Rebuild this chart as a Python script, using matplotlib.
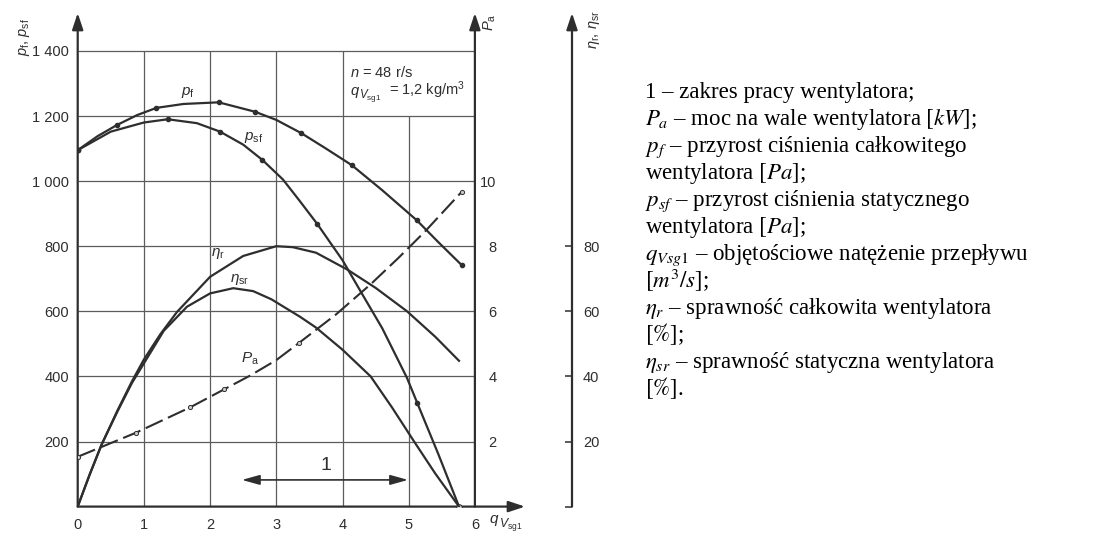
import numpy as np
import matplotlib.pyplot as plt

plt.rcParams['font.family'] = 'Liberation Sans'
plt.rcParams['mathtext.fontset'] = 'custom'
plt.rcParams['mathtext.rm'] = 'Liberation Sans'
plt.rcParams['mathtext.it'] = 'Liberation Sans:italic'

# fan characteristic, n = 48 r/s
# total pressure rise p_f [Pa]
q_pf = [0.0, 0.3, 0.59, 0.9, 1.19, 1.6, 2.13, 2.68, 3.0, 3.38, 3.75, 4.14, 4.6, 5.12, 5.45, 5.80]
pf = [1095, 1138, 1172, 1203, 1225, 1237, 1242, 1213, 1188, 1147, 1100, 1049, 972, 880, 812, 742]
pf_dots = [0, 2, 4, 6, 7, 9, 11, 13, 15]

# static pressure rise p_sf [Pa]
q_psf = [0.0, 0.5, 1.0, 1.36, 1.8, 2.15, 2.5, 2.79, 3.1, 3.35, 3.62, 4.0, 4.3, 4.6, 4.975, 5.13, 5.45, 5.76]
psf = [1095, 1152, 1180, 1190, 1178, 1152, 1112, 1065, 1005, 940, 868, 757, 652, 548, 395, 318, 160, 0]
psf_dots = [0, 3, 5, 7, 10, 15]

# total efficiency eta_r [%]
q_er = [0.0, 0.18, 0.36, 0.6, 0.82, 1.0, 1.25, 1.5, 2.0, 2.5, 3.0, 3.25, 3.6, 4.075, 4.5, 4.975, 5.4, 5.76]
eta_r = [0, 9.8, 19.0, 29.5, 38.5, 45.2, 53.0, 59.8, 70.6, 77.0, 80.0, 79.7, 78.0, 72.8, 67.2, 60.0, 52.2, 44.8]

# static efficiency eta_sr [%]
q_esr = [0.0, 0.18, 0.36, 0.6, 0.82, 1.0, 1.3, 1.65, 2.0, 2.35, 2.65, 2.925, 3.36, 3.6, 4.0, 4.425, 4.75, 5.075, 5.4, 5.76]
eta_sr = [0, 9.8, 19.0, 29.2, 38.0, 44.0, 54.0, 61.4, 65.5, 67.1, 66.2, 63.7, 58.3, 55.0, 48.2, 40.0, 30.4, 20.2, 10.2, 0]

# shaft power P_a [kW]
q_pa = [0.0, 0.88, 1.70, 2.21, 2.6, 3.0, 3.35, 3.9, 4.425, 4.85, 5.25, 5.80]
pa = [1.53, 2.27, 3.05, 3.60, 4.02, 4.50, 5.04, 5.90, 6.83, 7.65, 8.46, 9.67]
pa_dots = [0, 1, 2, 3, 6, 11]

work_range = [2.48, 4.99]

p_ticks = [200, 400, 600, 800, 1000, 1200, 1400]
p_labels = ['200', '400', '600', '800', '1 000', '1 200', '1 400']
pa_ticks = [2, 4, 6, 8, 10]
eta_ticks = [0, 20, 40, 60, 80]

ink = '#2e2e2e'
grid_c = '#5c5c5c'

W, H = 1097, 533
fig = plt.figure(figsize=(W / 100, H / 100), dpi=100)

# pixel geometry of the plotting frame
x0_px, y0_px = 77.7, 506.6
sx, sy = 66.2, 0.3255
right_px, top_px = 640, 4
ax = fig.add_axes([x0_px / W, (H - y0_px) / H, (right_px - x0_px) / W, (y0_px - top_px) / H])
xmax = (right_px - x0_px) / sx
ymax = (y0_px - top_px) / sy
ax.set_xlim(0, xmax)
ax.set_ylim(0, ymax)
for s in ax.spines.values():
    s.set_visible(False)

x_eta = (572 - x0_px) / sx
y_arrow = (y0_px - 13) / sy

# grid
ax.vlines([1, 2, 3, 4], 0, 1400, color=grid_c, lw=0.9, zorder=1)
ax.vlines(5, 0, 1200, color=grid_c, lw=0.9, zorder=1)
ax.hlines(p_ticks, 0, 6, color=grid_c, lw=0.9, zorder=1)

# axes with arrow heads
arr = dict(arrowstyle='-|>,head_length=0.9,head_width=0.3', lw=1.6, color=ink,
           mutation_scale=11, shrinkA=0, shrinkB=0)
ax.annotate('', xy=(0, y_arrow), xytext=(0, 0), arrowprops=arr)
ax.annotate('', xy=(6, y_arrow), xytext=(6, 0), arrowprops=arr)
ax.annotate('', xy=(x_eta, y_arrow), xytext=(x_eta, 0), arrowprops=arr)
ax.annotate('', xy=((525 - x0_px) / sx, 0), xytext=(0, 0), arrowprops=arr)

ax.set_xticks(range(7))
ax.set_xticklabels([str(i) for i in range(7)])
ax.set_yticks(p_ticks)
ax.set_yticklabels(p_labels)
ax.tick_params(axis='x', length=0, pad=8, labelsize=10.5, labelcolor=ink)
ax.tick_params(axis='y', length=0, pad=6, labelsize=10.5, labelcolor=ink)

# pressure curves
ax.plot(q_pf, pf, color=ink, lw=1.6, marker='o', ms=3, markevery=pf_dots, zorder=3)
ax.plot(q_psf, psf, color=ink, lw=1.6, marker='o', ms=3, markevery=psf_dots, zorder=3)
ax.plot(q_psf[-1], psf[-1], 'o', ms=4, mfc='#dddddd', mec=ink, mew=0.8, zorder=4)

# power axis
ax_pa = ax.twinx()
ax_pa.set_ylim(0, ymax / 100)
for s in ax_pa.spines.values():
    s.set_visible(False)
ax_pa.spines['right'].set_position(('data', 6))
ax_pa.set_yticks(pa_ticks)
ax_pa.tick_params(axis='y', length=0, pad=15.5, labelsize=10.5, labelcolor=ink)
for lbl in ax_pa.get_yticklabels():
    lbl.set_ha('right')
ax_pa.plot(q_pa, pa, color=ink, lw=1.5, dashes=(9, 2.8), marker='o', ms=3,
           mfc='#cccccc', mec=ink, mew=0.7, markevery=pa_dots, zorder=3)

# efficiency axis
ax_eta = ax.twinx()
ax_eta.set_ylim(0, ymax / 10)
for s in ax_eta.spines.values():
    s.set_visible(False)
ax_eta.spines['right'].set_position(('data', x_eta))
ax_eta.set_yticks(eta_ticks)
ax_eta.set_yticklabels([''] + [str(v) for v in eta_ticks[1:]])
ax_eta.tick_params(axis='y', direction='in', length=5, width=1.1, color=ink,
                   pad=8, labelsize=10.5, labelcolor=ink)
ax_eta.plot(q_er, eta_r, color=ink, lw=1.6, zorder=3)
ax_eta.plot(q_esr, eta_sr, color=ink, lw=1.6, zorder=3)

# curve labels
lab = dict(color=ink, fontsize=11, ha='center', va='center')
ax.text(1.67, 1272, r'$p_\mathrm{f}$', **lab)
ax.text(2.66, 1135, r'$p_\mathrm{sf}$', **lab)
ax.text(2.12, 779, r'$\eta_\mathrm{r}$', **lab)
ax.text(2.45, 697, r'$\eta_\mathrm{sr}$', **lab)
ax.text(2.60, 455, r'$P_\mathrm{a}$', **lab)


def flow_symbol(x, y, size, tail=''):
    # "q" with a lowered V_sg1 index, written in three pieces
    t = ax.text(x, y, r'$q$', color=ink, fontsize=size, ha='left', va='baseline',
                clip_on=False)
    ax.annotate(r'$V_\mathrm{sg1}$', (x, y), xytext=(0.62 * size, -0.22 * size),
                textcoords='offset points', color=ink, fontsize=0.8 * size,
                ha='left', va='baseline', annotation_clip=False)
    if tail:
        ax.annotate(tail, (x, y), xytext=(2.7 * size, 0), textcoords='offset points',
                    color=ink, fontsize=size, ha='left', va='baseline')
    return t


ax.text(4.11, 1335, r'$n$ = 48 r/s', color=ink, fontsize=10.5, ha='left', va='center')
flow_symbol(4.11, 1266, 10.5, r'= 1,2 kg/m$^3$')

# working range
ax.annotate('', xy=(work_range[1], 82), xytext=(work_range[0], 82),
            arrowprops=dict(arrowstyle='<|-|>,head_length=0.9,head_width=0.25', lw=1.2,
                            color=ink, mutation_scale=12, shrinkA=0, shrinkB=0))
ax.text(3.75, 125, '1', color=ink, fontsize=14, ha='center', va='center')

flow_symbol(6.22, -51, 11)

fig.text(24 / W, 1 - 37 / H, r'$p_\mathrm{f}$, $p_\mathrm{sf}$', rotation=90, color=ink,
         fontsize=10.5, ha='center', va='center')
fig.text(490 / W, 1 - 22 / H, r'$P_\mathrm{a}$', rotation=90, color=ink,
         fontsize=10.5, ha='center', va='center')
fig.text(595 / W, 1 - 30 / H, r'$\eta_\mathrm{r}$, $\eta_\mathrm{sr}$', rotation=90, color=ink,
         fontsize=10.5, ha='center', va='center')

# description of symbols
legend_lines = [
    '1 – zakres pracy wentylatora;',
    r'$P_a$ – moc na wale wentylatora $[kW]$;',
    r'$p_f$ – przyrost ciśnienia całkowitego',
    r'wentylatora $[Pa]$;',
    r'$p_{sf}$ – przyrost ciśnienia statycznego',
    r'wentylatora $[Pa]$;',
    r'$q_{Vsg\mathit{1}}$ – objętościowe natężenie przepływu',
    r'$[m^3/s]$;',
    r'$\eta_r$ – sprawność całkowita wentylatora',
    r'$[\%]$;',
    r'$\eta_{sr}$ – sprawność statyczna wentylatora',
    r'$[\%]$.',
]
for i, line in enumerate(legend_lines):
    fig.text(645 / W, 1 - (98 + 27 * i) / H, line, family='Liberation Serif',
             math_fontfamily='stix', fontsize=16.5, color='black', ha='left', va='baseline')

fig.savefig('out.png', dpi=100, facecolor='white')
